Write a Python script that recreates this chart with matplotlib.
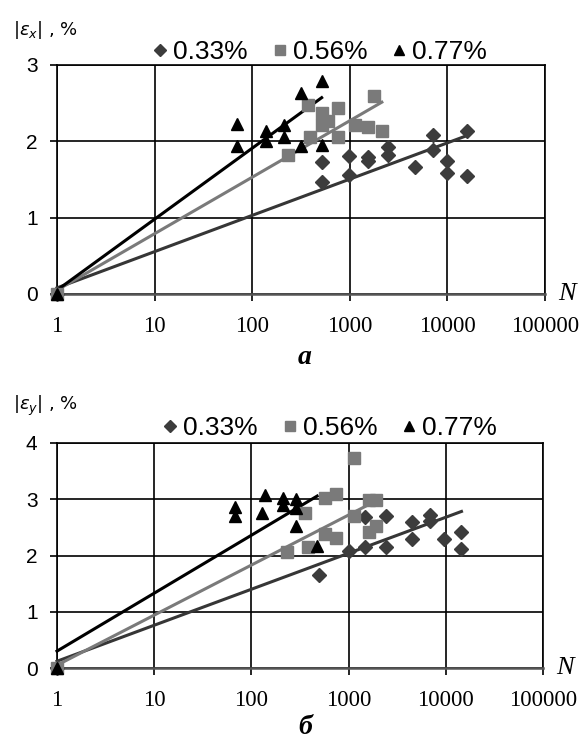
import numpy as np
import matplotlib
matplotlib.use("Agg")
import matplotlib.pyplot as plt
from matplotlib.lines import Line2D

# ---------------- data ----------------
labels = ["0.33%", "0.56%", "0.77%"]

# panel a: |eps_x|
a_N_033 = [1, 515, 515, 990, 990, 1550, 1550, 2470, 2470, 4650, 7200, 7200, 9800, 9800, 15800, 15800]
a_y_033 = [0, 1.73, 1.47, 1.81, 1.56, 1.79, 1.74, 1.92, 1.82, 1.67, 2.08, 1.89, 1.74, 1.59, 2.13, 1.55]
a_N_056 = [1, 235, 375, 390, 520, 520, 600, 760, 760, 1130, 1550, 1780, 2130]
a_y_056 = [0, 1.82, 2.48, 2.06, 2.37, 2.22, 2.26, 2.44, 2.06, 2.21, 2.19, 2.59, 2.13]
a_N_077 = [1, 70, 70, 140, 140, 210, 210, 316, 316, 515, 515]
a_y_077 = [0, 2.23, 1.94, 2.14, 2.00, 2.21, 2.06, 2.63, 1.94, 2.79, 1.95]
# logarithmic trend lines y = b + k*log10(N)
a_trend_k = [0.475, 0.74, 0.93]
a_trend_b = [0.08, 0.05, 0.05]

# panel b: |eps_y|
b_N_033 = [1, 500, 1000, 1490, 1490, 2400, 2400, 4500, 4500, 6900, 6900, 9500, 14500, 14500]
b_y_033 = [0, 1.65, 2.08, 2.69, 2.16, 2.71, 2.16, 2.60, 2.29, 2.72, 2.62, 2.30, 2.42, 2.12]
b_N_056 = [1, 235, 360, 380, 570, 570, 740, 740, 1150, 1150, 1630, 1630, 1900, 1900]
b_y_056 = [0, 2.07, 2.75, 2.16, 3.02, 2.38, 3.10, 2.31, 3.73, 2.70, 2.99, 2.42, 2.98, 2.52]
b_N_077 = [1, 68, 68, 130, 139, 213, 213, 290, 290, 285, 475]
b_y_077 = [0, 2.87, 2.70, 2.76, 3.07, 3.03, 2.90, 3.00, 2.85, 2.52, 2.17]
b_trend_k = [0.64, 0.89, 1.03]
b_trend_b = [0.12, 0.05, 0.30]

x_ticks = [1, 10, 100, 1000, 10000, 100000]
x_ticklabels = ["1", "10", "100", "1000", "10000", "100000"]

# ---------------- style ----------------
marker_colors = ["#3c3c3c", "#7a7a7a", "#000000"]
line_colors = ["#363636", "#7a7a7a", "#000000"]
markers = ["D", "s", "^"]
msizes = [7.5, 8.5, 9]

W, H = 587, 740
fig = plt.figure(figsize=(W / 100, H / 100), dpi=100)


def fx(px):
    return px / W


def fy(py):
    return 1 - py / H


def panel(ax, Ns, ys, ks, bs, ymax, ylabel, ylab_y, leg_x, leg_y, panel_label, panel_y):
    ax.set_xscale("log")
    ax.set_xlim(1, 100000)
    ax.set_ylim(0, ymax)
    ax.set_xticks(x_ticks)
    ax.set_xticklabels(x_ticklabels, fontfamily="Liberation Serif", fontsize=16.5)
    ax.minorticks_off()
    ax.set_yticks(range(0, ymax + 1))
    ax.set_yticklabels([str(v) for v in range(0, ymax + 1)],
                       fontfamily="Liberation Sans", fontsize=15)
    ax.tick_params(axis="x", direction="out", length=5, width=1.2, pad=11)
    ax.tick_params(axis="y", direction="out", length=5, width=1.2, pad=9)
    ax.grid(True, color="black", linewidth=1.2)
    for s in ax.spines.values():
        s.set_color("black")
        s.set_linewidth(1.2)
    ax.spines["bottom"].set_color("#555555")
    ax.spines["bottom"].set_linewidth(1.8)

    for i in range(3):
        nmax = max(Ns[i])
        xx = np.logspace(0, np.log10(nmax), 50)
        ax.plot(xx, bs[i] + ks[i] * np.log10(xx), color=line_colors[i], lw=2.2,
                zorder=3, clip_on=False)
    for i in range(3):
        ax.plot(Ns[i], ys[i], linestyle="none", marker=markers[i], ms=msizes[i],
                color=marker_colors[i], mec=marker_colors[i], zorder=4, clip_on=False)

    handles = [Line2D([], [], linestyle="none", marker=markers[i], ms=msizes[i] - 1.5,
                      color=marker_colors[i]) for i in range(3)]
    fig.legend(handles, labels, loc="center", bbox_to_anchor=(fx(leg_x), fy(leg_y)),
               ncol=3, frameon=False, handletextpad=0.0, columnspacing=0.7,
               handlelength=1.0, prop={"family": "Liberation Sans", "size": 19})

    fig.text(fx(13), fy(ylab_y), ylabel, ha="left", va="center",
             fontfamily="DejaVu Sans", fontsize=13)
    ax.text(1.045, 0.0, "N", transform=ax.transAxes, ha="center", va="center",
            fontfamily="Liberation Serif", fontstyle="italic", fontsize=19)
    fig.text(fx(305), fy(panel_y), panel_label, ha="center", va="center",
             fontfamily="Liberation Serif", fontstyle="italic", fontweight="bold",
             fontsize=20)


ax1 = fig.add_axes([fx(57), fy(294), (545 - 57) / W, (294 - 65) / H])
panel(ax1, [a_N_033, a_N_056, a_N_077], [a_y_033, a_y_056, a_y_077],
      a_trend_k, a_trend_b, 3, r"$|\varepsilon_{x}|$ , %", 30, 317, 52, "а", 358)

ax2 = fig.add_axes([fx(57), fy(668), (543 - 57) / W, (668 - 443) / H])
panel(ax2, [b_N_033, b_N_056, b_N_077], [b_y_033, b_y_056, b_y_077],
      b_trend_k, b_trend_b, 4, r"$|\varepsilon_{y}|$ , %", 406, 327, 428, "б", 727)

fig.savefig("out.png", dpi=100)
